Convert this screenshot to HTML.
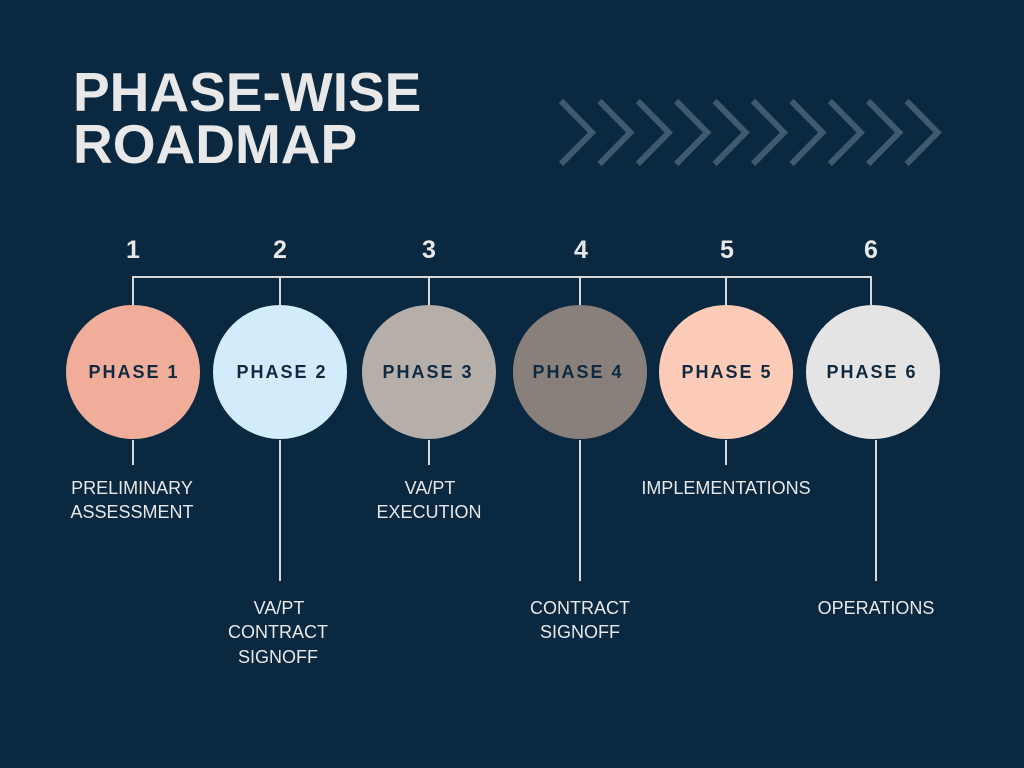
<!DOCTYPE html>
<html><head><meta charset="utf-8"><style>
html,body{margin:0;padding:0;background:#0a2840;}
svg{display:block}
</style></head><body>
<svg width="1024" height="768" viewBox="0 0 1024 768" xmlns="http://www.w3.org/2000/svg">
<rect width="1024" height="768" fill="#0a2840"/>
<g font-family="Liberation Sans, DejaVu Sans, sans-serif" font-weight="bold" fill="#e8e8e8" font-size="55">
<text x="73" y="111">PHASE-WISE</text>
<text x="73" y="163">ROADMAP</text>
</g>
<g fill="none" stroke="#3e5a6e" stroke-width="6">
<path d="M561,101 L592,132.5 L561,164"/>
<path d="M599.4,101 L630.4,132.5 L599.4,164"/>
<path d="M637.8,101 L668.8,132.5 L637.8,164"/>
<path d="M676.2,101 L707.2,132.5 L676.2,164"/>
<path d="M714.6,101 L745.6,132.5 L714.6,164"/>
<path d="M753,101 L784,132.5 L753,164"/>
<path d="M791.4,101 L822.4,132.5 L791.4,164"/>
<path d="M829.8,101 L860.8,132.5 L829.8,164"/>
<path d="M868.2,101 L899.2,132.5 L868.2,164"/>
<path d="M906.6,101 L937.6,132.5 L906.6,164"/>
</g>
<g stroke="#d8d8d8" stroke-width="2" fill="none">
<path d="M133,305 V277 H871 V305"/>
<path d="M280,277 V305 M429,277 V305 M580,277 V305 M726,277 V305"/>
<path d="M133,440 V465 M280,440 V581 M429,440 V465 M580,440 V581 M726,440 V465 M876,440 V581"/>
</g>
<g font-family="Liberation Sans, DejaVu Sans, sans-serif" font-weight="bold" fill="#e8e8e8" font-size="25" text-anchor="middle">
<text x="133" y="258">1</text><text x="280" y="258">2</text><text x="429" y="258">3</text>
<text x="581" y="258">4</text><text x="727" y="258">5</text><text x="871" y="258">6</text>
</g>
<circle cx="133" cy="372" r="67" fill="#f0ae9a"/>
<circle cx="280" cy="372" r="67" fill="#d2ecfb"/>
<circle cx="429" cy="372" r="67" fill="#b6aea8"/>
<circle cx="580" cy="372" r="67" fill="#8a807b"/>
<circle cx="726" cy="372" r="67" fill="#fdccb9"/>
<circle cx="873" cy="372" r="67" fill="#e4e4e4"/>
<g font-family="Liberation Sans, DejaVu Sans, sans-serif" font-weight="bold" fill="#0f2a40" font-size="18" letter-spacing="2" text-anchor="middle">
<text x="134" y="378">PHASE 1</text><text x="282" y="378">PHASE 2</text><text x="428" y="378">PHASE 3</text>
<text x="578" y="378">PHASE 4</text><text x="727" y="378">PHASE 5</text><text x="872" y="378">PHASE 6</text>
</g>
<g font-family="Liberation Sans, DejaVu Sans, sans-serif" fill="#e8e8e8" font-size="18" text-anchor="middle">
<text x="132" y="494">PRELIMINARY</text><text x="132" y="518">ASSESSMENT</text>
<text x="279" y="614">VA/PT</text><text x="278" y="638">CONTRACT</text><text x="278" y="663">SIGNOFF</text>
<text x="430" y="494">VA/PT</text><text x="429" y="518">EXECUTION</text>
<text x="580" y="614">CONTRACT</text><text x="580" y="638">SIGNOFF</text>
<text x="726" y="494">IMPLEMENTATIONS</text>
<text x="876" y="614">OPERATIONS</text>
</g>
</svg>
</body></html>
